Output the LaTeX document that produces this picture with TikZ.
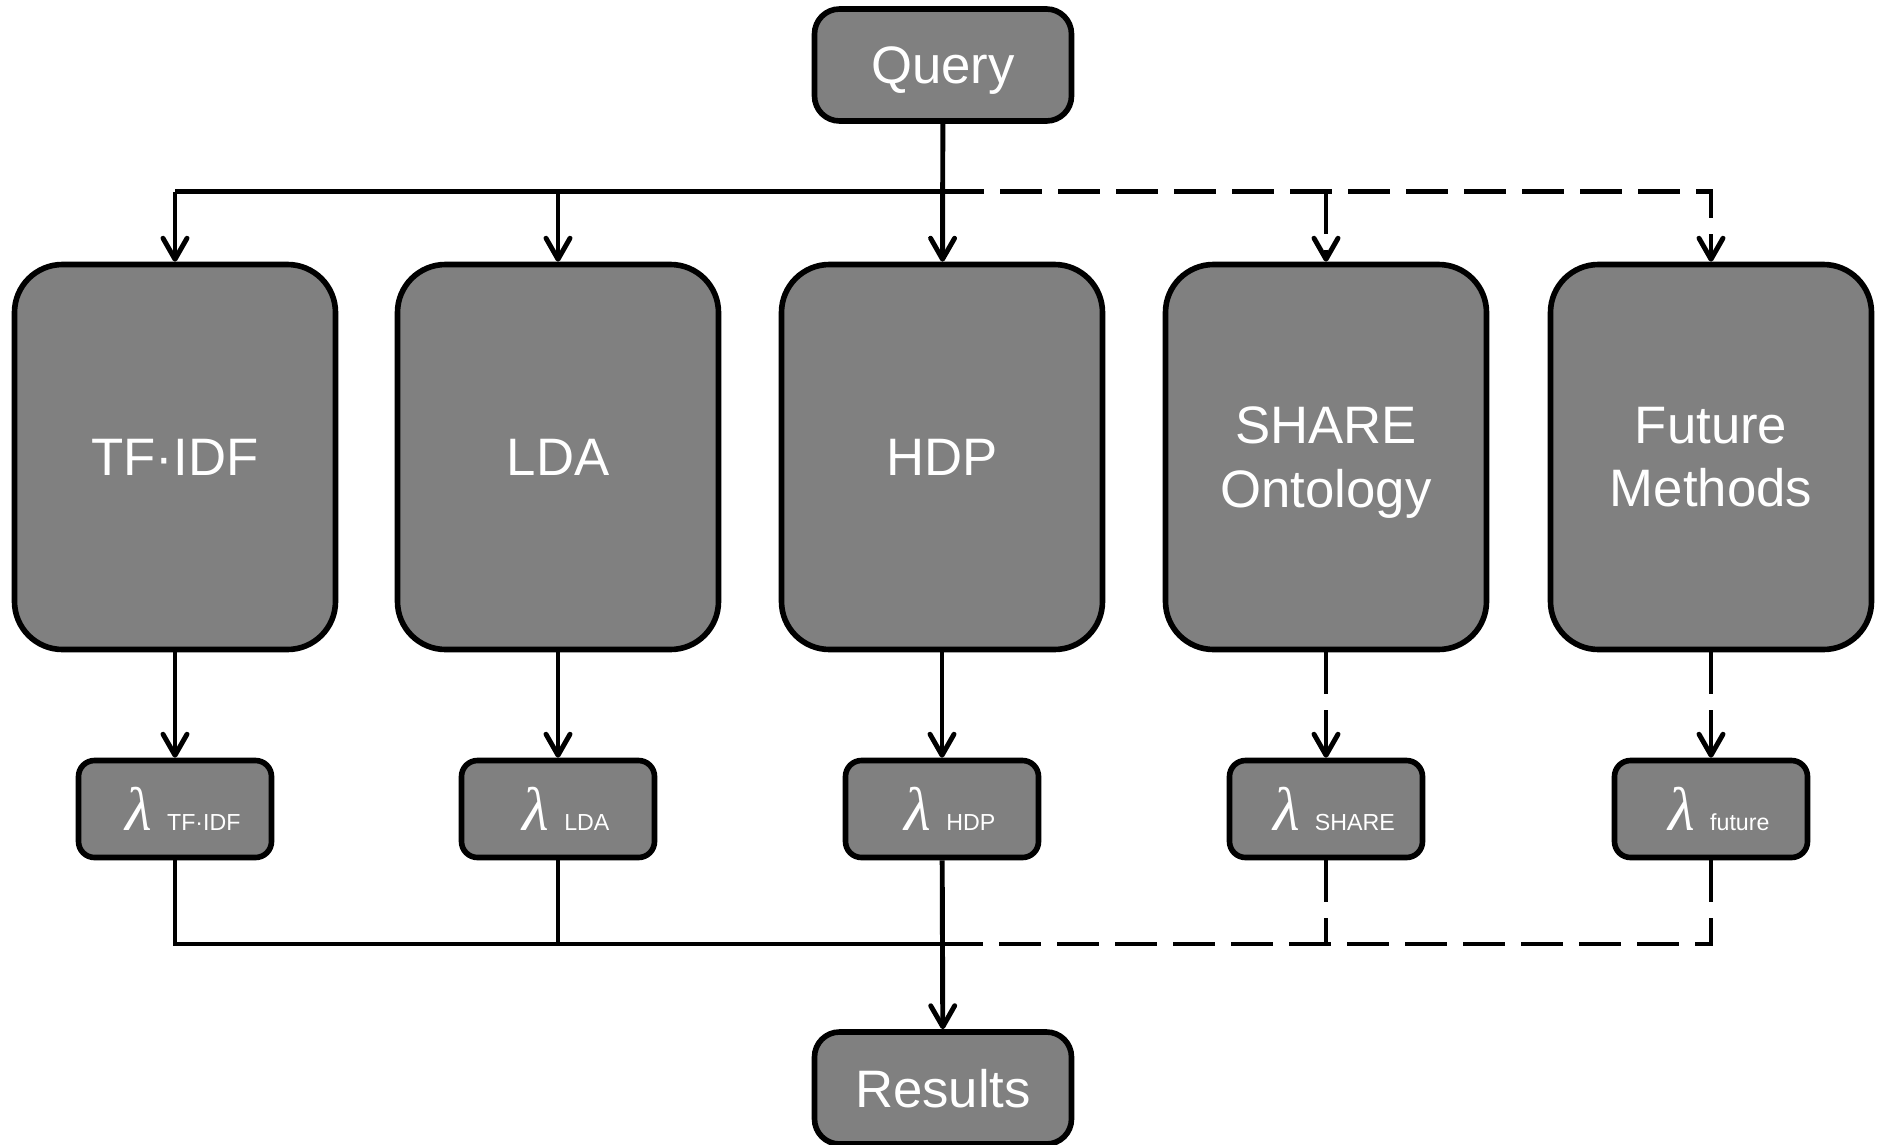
\documentclass[tikz,border=0pt]{standalone}
\usepackage{fontspec}
\setmainfont{Liberation Sans}
\newfontfamily\lamfont{Liberation Serif}
\usepackage{xcolor}
\usepackage{tikz}
\usetikzlibrary{arrows.meta}

\definecolor{boxgray}{RGB}{128,128,128}

\tikzset{
  box/.style={draw=black, line width=1.6pt, fill=boxgray, text=white, align=center,
    inner sep=0pt, text depth=0pt, rounded corners=2.5mm, font=\fontsize{15}{18}\selectfont},
  bigbox/.style={box, minimum width=32.1mm, minimum height=38.5mm, rounded corners=4.8mm},
  endbox/.style={box, minimum width=25.7mm, minimum height=11.2mm},
  lambox/.style={box, minimum width=19.3mm, minimum height=9.7mm, rounded corners=1.6mm},
  wire/.style={line width=1.4pt},
  link/.style={wire, -{Straight Barb[length=2.1mm,width=2.4mm,round]}},
  optional/.style={dash pattern=on 4.2mm off 1.6mm}
}

\newcommand{\lam}[1]{\hspace*{1.6mm}{\lamfont\itshape\fontsize{17.5}{17}\selectfont λ}\hspace{1.5mm}{\fontsize{6.6}{8}\selectfont #1}}

\begin{document}
\begin{tikzpicture}[x=0.1mm,y=-0.1mm]
\useasboundingbox (0,0) rectangle (1877,1145);
\coordinate (topbus) at (0,191.5);
\coordinate (botbus) at (0,944);

\node[endbox] (query) at (943,65) {Query};
\node[endbox] (res) at (943,1088) {Results};

\node[bigbox] (tf) at (175,457) {TF·IDF};
\node[bigbox] (lda) at (558,457) {LDA};
\node[bigbox] (hdp) at (942,457) {HDP};
\node[bigbox] (share) at (1326,457) {SHARE\\Ontology};
\node[bigbox] (fut) at (1711,457) {Future\\Methods};

\node[lambox] (ltf) at (175,809) {\lam{TF·IDF}};
\node[lambox] (llda) at (558,809) {\lam{LDA}};
\node[lambox] (lhdp) at (942,809) {\lam{HDP}};
\node[lambox] (lshare) at (1326,809) {\lam{SHARE}};
\node[lambox] (lfut) at (1711,809) {\lam{future}};

% query to methods
\draw[link] (query) -- (hdp);
\draw[wire] (tf |- topbus) -- (hdp |- topbus);
\draw[link] (tf |- topbus) -- (tf);
\draw[link] (lda |- topbus) -- (lda);
\draw[link,optional] (hdp |- topbus) -| (fut);
\draw[link,optional] (share |- topbus) -- (share);

% methods to weights
\draw[link] (tf) -- (ltf);
\draw[link] (lda) -- (llda);
\draw[link] (hdp) -- (lhdp);
\draw[link,optional] (share) -- (lshare);
\draw[link,optional] (fut) -- (lfut);

% weights to results
\draw[wire] (ltf) |- (lhdp |- botbus);
\draw[wire] (llda) -- (llda |- botbus);
\draw[link] (lhdp) -- (res);
\draw[wire,optional] (lfut) |- (lhdp |- botbus);
\draw[wire,optional] (lshare) -- (lshare |- botbus);
\end{tikzpicture}
\end{document}
